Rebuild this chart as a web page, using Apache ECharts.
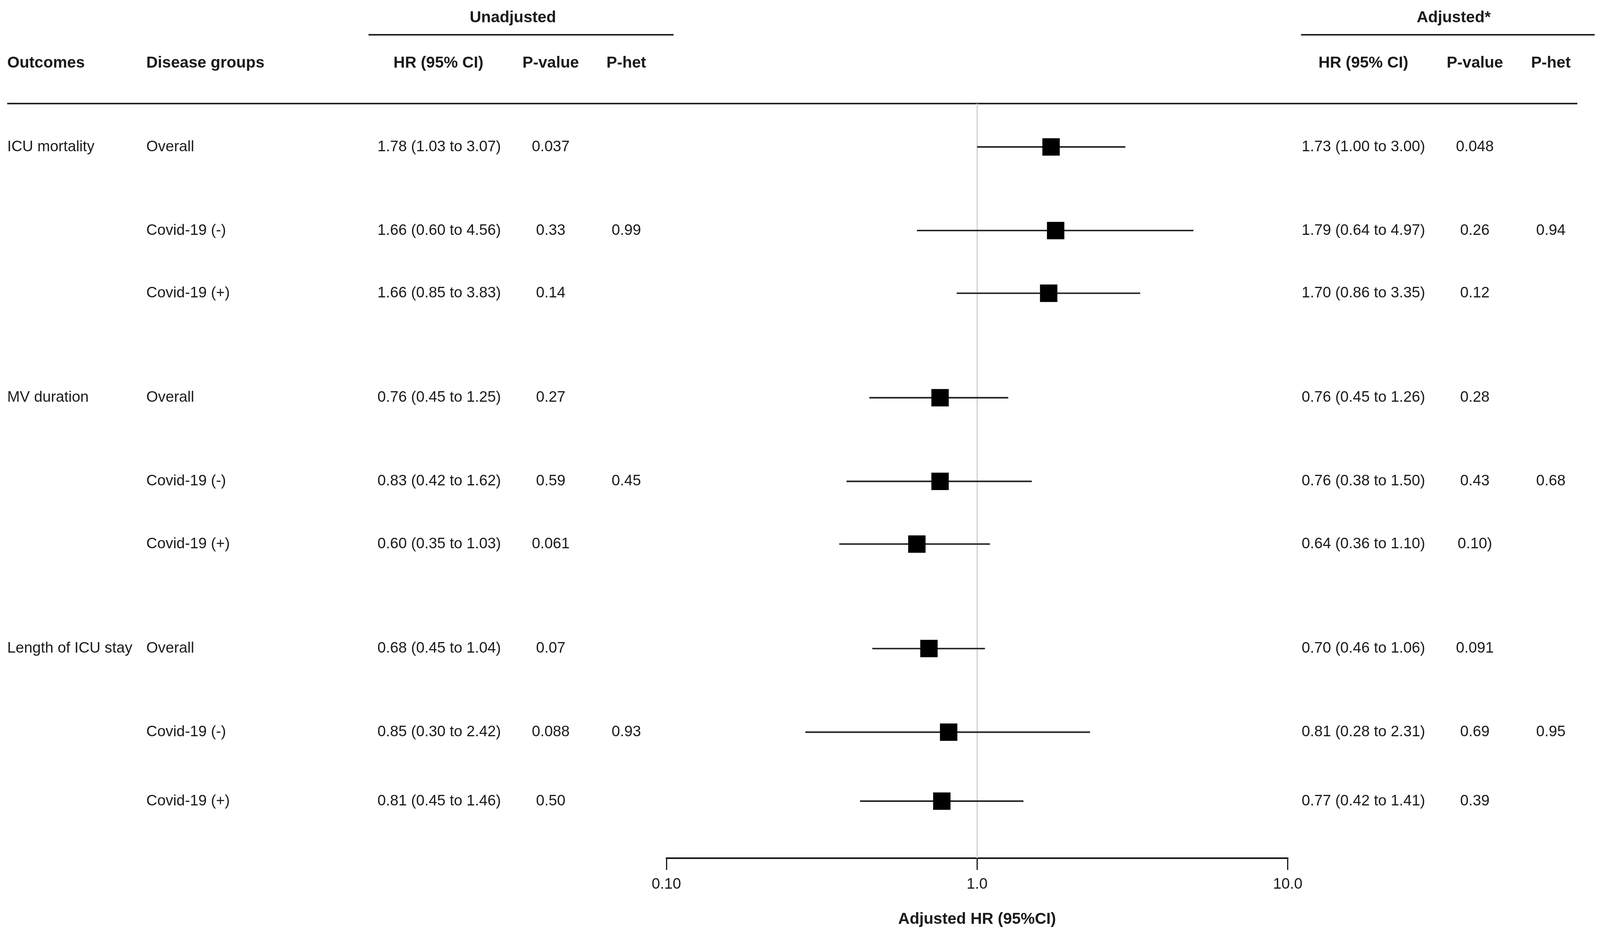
<!DOCTYPE html>
<html><head><meta charset="utf-8">
<script src="https://cdn.jsdelivr.net/npm/echarts@6/dist/echarts.min.js"></script>
<style>html,body{margin:0;padding:0;background:#fff;overflow:hidden;width:100%;height:100%}#c{width:100vw;height:100vh}</style>
</head><body><div id="c"></div>
<script>
// ---- data ----
const outcomes = ["ICU mortality","","","MV duration","","","Length of ICU stay","",""];
const groups = ["Overall","Covid-19 (-)","Covid-19 (+)","Overall","Covid-19 (-)","Covid-19 (+)","Overall","Covid-19 (-)","Covid-19 (+)"];
const unadjHR = [1.78,1.66,1.66,0.76,0.83,0.60,0.68,0.85,0.81];
const unadjLo = [1.03,0.60,0.85,0.45,0.42,0.35,0.45,0.30,0.45];
const unadjHi = [3.07,4.56,3.83,1.25,1.62,1.03,1.04,2.42,1.46];
const unadjP = ["0.037","0.33","0.14","0.27","0.59","0.061","0.07","0.088","0.50"];
const unadjPhet = ["","0.99","","","0.45","","","0.93",""];
const adjHR = [1.73,1.79,1.70,0.76,0.76,0.64,0.70,0.81,0.77];
const adjLo = [1.00,0.64,0.86,0.45,0.38,0.36,0.46,0.28,0.42];
const adjHi = [3.00,4.97,3.35,1.26,1.50,1.10,1.06,2.31,1.41];
const adjP = ["0.048","0.26","0.12","0.28","0.43","0.10)","0.091","0.69","0.39"];
const adjPhet = ["","0.94","","","0.68","","","0.95",""];
const tickValues = [0.1, 1, 10];
const tickLabels = ["0.10", "1.0", "10.0"];
const axisTitle = "Adjusted HR (95%CI)";

// ---- layout (row slots on the hidden y axis) ----
const rowSlot = [0, 4, 7, 12, 16, 19, 24, 28, 31.3];

const FONT = '"Liberation Sans", Arial, sans-serif';
const TXT = '#1a1a1a';
const fmtCI = (h, l, u) => h.toFixed(2) + ' (' + l.toFixed(2) + ' to ' + u.toFixed(2) + ')';

const chart = echarts.init(document.getElementById('c'), null, {renderer: 'canvas'});
const sx = chart.getWidth() / 4233, sy = chart.getHeight() / 2390, sf = Math.min(sx, sy);
const X = v => v * sx, Y = v => v * sy, F = v => v * sf;

const ciData = adjHR.map((h, i) => [h, adjLo[i], adjHi[i], rowSlot[i]]);
const textData = rowSlot.map((s, i) => [1, s, i]);

function hdr(text, x, y, align) {
  return {type: 'text', x: X(x), y: Y(y), silent: true,
    style: {text: text, fill: TXT, font: 'bold ' + F(42) + 'px ' + FONT, align: align || 'center', verticalAlign: 'middle'}};
}
function hline(x1, x2, y) {
  return {type: 'line', silent: true, shape: {x1: X(x1), y1: Y(y), x2: X(x2), y2: Y(y)},
    style: {stroke: '#222', lineWidth: F(4)}};
}

const option = {
  animation: false,
  backgroundColor: '#fff',
  grid: {left: X(1763), width: X(1644), top: Y(265), height: Y(1931), containLabel: false},
  xAxis: {
    type: 'log', logBase: 10, min: 0.1, max: 10, interval: 1,
    axisLine: {show: true, onZero: false, lineStyle: {color: '#111', width: F(4)}},
    axisTick: {show: true, inside: false, length: Y(30), lineStyle: {color: '#111', width: F(3)}},
    axisLabel: {show: true, margin: Y(48), color: TXT, fontSize: F(40), fontFamily: FONT,
      formatter: v => { const k = tickValues.findIndex(t => Math.abs(Math.log10(t) - Math.log10(v)) < 1e-6); return k >= 0 ? tickLabels[k] : ''; }},
    splitLine: {show: false},
    name: axisTitle, nameLocation: 'middle', nameGap: Y(136),
    nameTextStyle: {color: TXT, fontSize: F(42), fontWeight: 'bold', fontFamily: FONT}
  },
  yAxis: {type: 'value', inverse: true, min: -2.0755, max: 34.03, show: false},
  graphic: [
    hdr('Unadjusted', 1357, 46), hline(975, 1782, 89),
    hdr('Adjusted*', 3846, 46), hline(3442, 4219, 89),
    hdr('Outcomes', 19, 162, 'left'), hdr('Disease groups', 387, 162, 'left'),
    hdr('HR (95% CI)', 1160, 162), hdr('P-value', 1457, 162), hdr('P-het', 1657, 162),
    hdr('HR (95% CI)', 3607, 162), hdr('P-value', 3902, 162), hdr('P-het', 4103, 162),
    hline(19, 4173, 265)
  ],
  series: [
    {
      type: 'custom', name: 'ci', data: ciData, silent: true, clip: false, z: 3,
      encode: {x: [0, 1, 2], y: 3},
      renderItem: function (params, api) {
        const c = api.coord([api.value(0), api.value(3)]);
        const lo = api.coord([api.value(1), api.value(3)]);
        const hi = api.coord([api.value(2), api.value(3)]);
        const s = F(46);
        return {type: 'group', children: [
          {type: 'line', shape: {x1: lo[0], y1: lo[1], x2: hi[0], y2: hi[1]}, style: {stroke: '#222', lineWidth: F(4)}},
          {type: 'rect', shape: {x: c[0] - s / 2, y: c[1] - s / 2, width: s, height: s}, style: {fill: '#000'}}
        ]};
      },
      markLine: {
        silent: true, symbol: ['none', 'none'], label: {show: false}, z: 1,
        lineStyle: {color: '#cfcfcf', width: F(3), type: 'solid'},
        data: [{xAxis: 1}]
      }
    },
    {
      type: 'custom', name: 'table', data: textData, silent: true, clip: false, z: 4,
      encode: {x: 0, y: 1},
      renderItem: function (params, api) {
        const i = api.value(2);
        const y = api.coord([1, api.value(1)])[1];
        const t = (text, x, align) => ({type: 'text', x: X(x), y: y,
          style: {text: text, fill: TXT, font: F(40) + 'px ' + FONT, align: align, verticalAlign: 'middle'}});
        return {type: 'group', children: [
          t(outcomes[i], 19, 'left'),
          t(groups[i], 387, 'left'),
          t(fmtCI(unadjHR[i], unadjLo[i], unadjHi[i]), 1162, 'center'),
          t(unadjP[i], 1457, 'center'),
          t(unadjPhet[i], 1657, 'center'),
          t(fmtCI(adjHR[i], adjLo[i], adjHi[i]), 3607, 'center'),
          t(adjP[i], 3902, 'center'),
          t(adjPhet[i], 4103, 'center')
        ]};
      }
    }
  ]
};
chart.setOption(option);
</script>
</body></html>
